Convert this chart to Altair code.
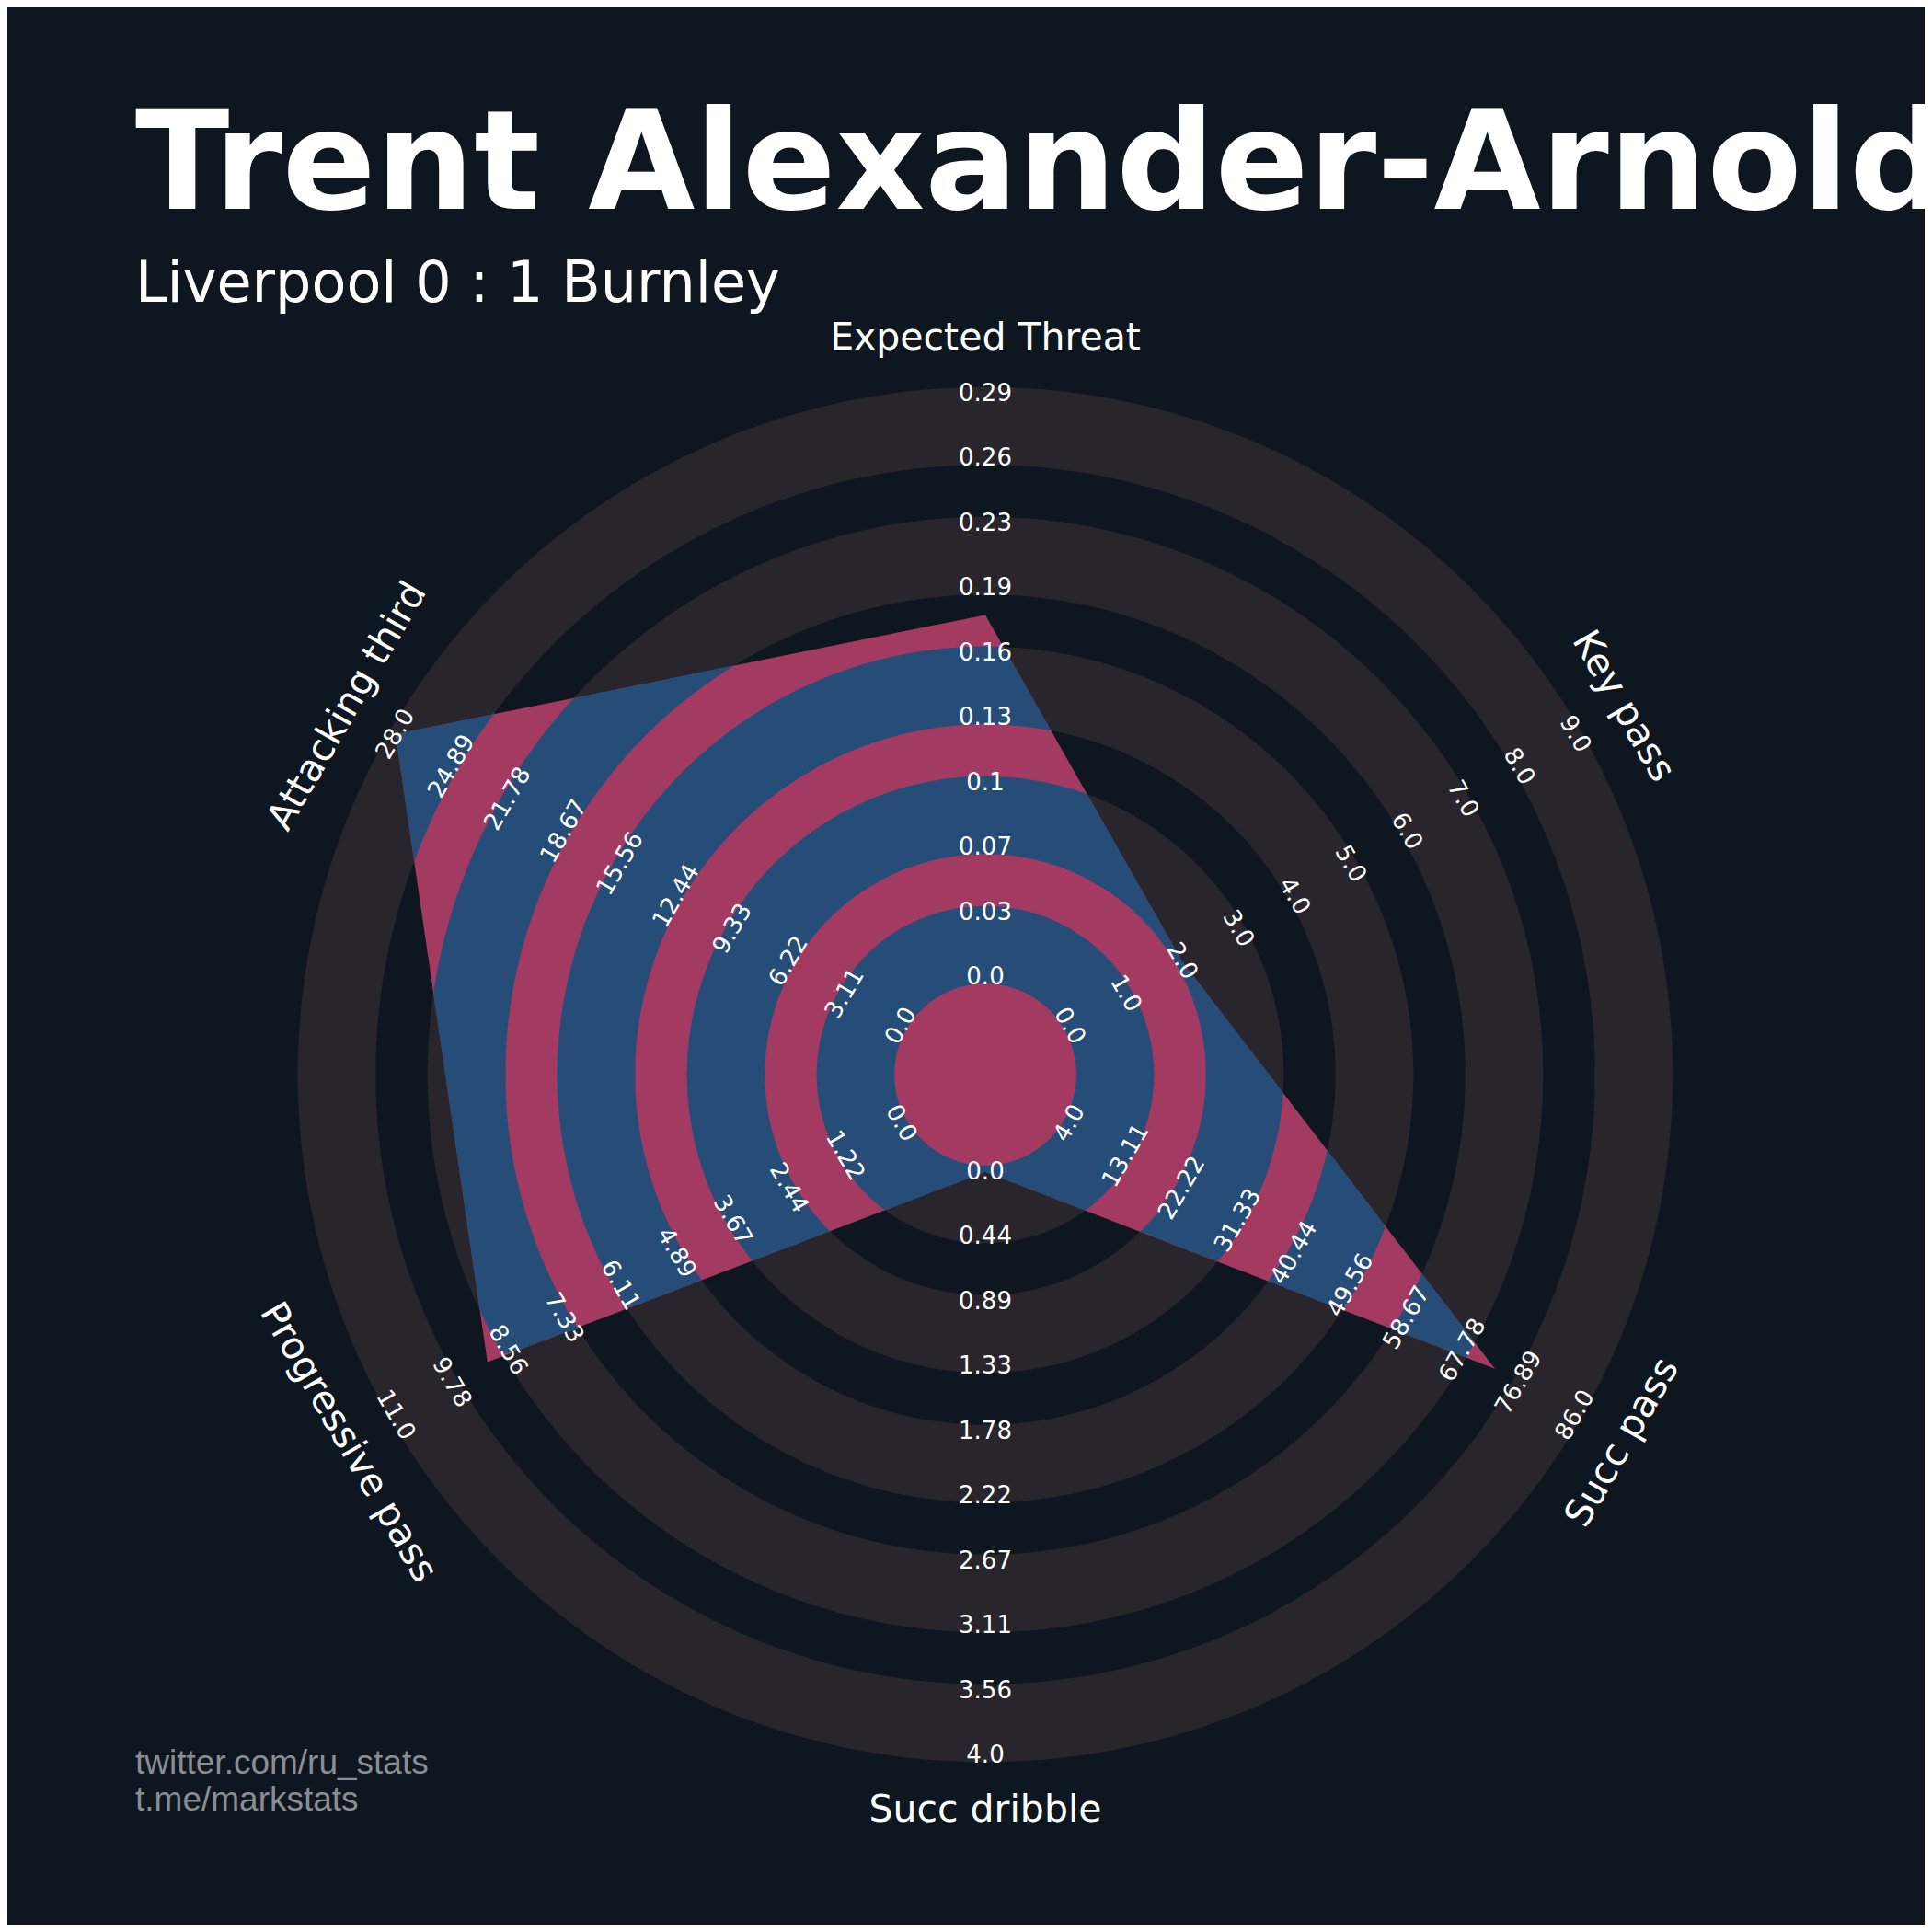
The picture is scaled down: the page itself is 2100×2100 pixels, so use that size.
import numpy as np
import pandas as pd
import altair as alt

# ---------------- data ----------------
params = ["Expected Threat", "Key pass", "Succ pass", "Succ dribble",
          "Progressive pass", "Attacking third"]
values = [0.18, 2, 73, 0, 9, 28]
range_min = [0.0, 0.0, 4.0, 0.0, 0.0, 0.0]
range_max = [0.29, 9.0, 86.0, 4.0, 11.0, 28.0]
axis_angle = [90, 30, -30, -90, -150, 150]  # degrees, counter-clockwise from east

labels_xt = ["0.0", "0.03", "0.07", "0.1", "0.13", "0.16", "0.19", "0.23", "0.26", "0.29"]
labels_kp = ["0.0", "1.0", "2.0", "3.0", "4.0", "5.0", "6.0", "7.0", "8.0", "9.0"]
labels_sp = ["4.0", "13.11", "22.22", "31.33", "40.44", "49.56", "58.67", "67.78", "76.89", "86.0"]
labels_sd = ["0.0", "0.44", "0.89", "1.33", "1.78", "2.22", "2.67", "3.11", "3.56", "4.0"]
labels_pp = ["0.0", "1.22", "2.44", "3.67", "4.89", "6.11", "7.33", "8.56", "9.78", "11.0"]
labels_at = ["0.0", "3.11", "6.22", "9.33", "12.44", "15.56", "18.67", "21.78", "24.89", "28.0"]
ring_labels = [labels_xt, labels_kp, labels_sp, labels_sd, labels_pp, labels_at]

title = "Trent Alexander-Arnold"
subtitle = "Liverpool 0 : 1 Burnley"
credit_1 = "twitter.com/ru_stats"
credit_2 = "t.me/markstats"

# ---------------- style / geometry ----------------
BG = "#0e1720"
RING = "#28252c"
PINK = "#a33a61"
BLUE = "#254d78"
WHITE = "#ffffff"
GREY = "#8a8e93"

W = H = 2084
PX = 70.5           # pixels per radial unit
CX, CY = 1063, 1160  # radar centre in chart pixels
INNER = 1.5          # radius of the lowest label ring (units)
NSTEP = 9            # label steps
DISK = 1.4
LABEL_R = 11.35

xs = alt.Scale(domain=[-CX / PX, (W - CX) / PX], nice=False, zero=False)
ys = alt.Scale(domain=[-(H - CY) / PX, CY / PX], nice=False, zero=False)


def rot_for(a):
    return (90 - a) % 360 if np.sin(np.radians(a)) > 1e-9 else (-a - 90) % 360


# polygon vertices (units)
vr = [INNER + NSTEP * (v - lo) / (hi - lo) for v, lo, hi in zip(values, range_min, range_max)]
P = np.array([[r * np.cos(np.radians(a)), r * np.sin(np.radians(a))] for r, a in zip(vr, axis_angle)])


def poly_r(th_deg):
    th = np.radians(th_deg)
    d0, d1 = np.cos(th), np.sin(th)
    best = np.full(len(th), np.inf)
    n = len(P)
    for i in range(n):
        p = P[i]
        e = P[(i + 1) % n] - p
        den = d0 * e[1] - d1 * e[0]
        with np.errstate(divide="ignore", invalid="ignore"):
            t = (p[0] * e[1] - p[1] * e[0]) / den
            s = (p[0] * d1 - p[1] * d0) / den
        ok = (np.abs(den) > 1e-12) & (s >= -1e-9) & (s <= 1 + 1e-9) & (t > 0)
        best = np.where(ok & (t < best), t, best)
    return best


def band_rows(a, b, clip, step, start_id):
    rows = []
    pid = start_id
    for c in range(6):
        th = np.arange(c * 60 - 1, (c + 1) * 60 + 1 + 1e-9, step)
        if clip:
            ro = np.clip(poly_r(th), a, b)
            if np.all(ro <= a + 1e-9):
                continue
        else:
            ro = np.full(len(th), b)
        ang = np.concatenate([th, th[::-1]])
        rr = np.concatenate([ro, np.full(len(th), a)])
        xx = rr * np.cos(np.radians(ang))
        yy = rr * np.sin(np.radians(ang))
        for k, (x, y) in enumerate(zip(xx, yy)):
            rows.append({"pid": pid, "idx": k, "x": round(float(x), 4), "y": round(float(y), 4)})
        pid += 1
    return rows, pid


gray_rows, blue_rows = [], []
gid = bid = 0
for k in range(5):
    a, b = DISK + 2 * k, DISK + 1.2 + 2 * k
    r1, gid = band_rows(a, b, False, 1.0, gid)
    gray_rows += r1
    r2, bid = band_rows(a, b, True, 0.5, bid)
    blue_rows += r2
gray_df = pd.DataFrame(gray_rows)
blue_df = pd.DataFrame(blue_rows)

th = np.arange(0, 360, 1.0)
disk_df = pd.DataFrame({"pid": 0, "idx": np.arange(len(th)),
                        "x": np.round(DISK * np.cos(np.radians(th)), 4),
                        "y": np.round(DISK * np.sin(np.radians(th)), 4)})

param_df = pd.DataFrame({"param": params, "value": values, "lo": range_min, "hi": range_max,
                         "ang": axis_angle, "ord": list(range(len(params))),
                         "rot": [rot_for(a) for a in axis_angle]})

lab_rows = []
for p, a, labs in zip(params, axis_angle, ring_labels):
    for j, t in enumerate(labs):
        lab_rows.append({"param": p, "ang": a, "j": j, "txt": t, "rot": rot_for(a)})
lab_df = pd.DataFrame(lab_rows)


def filled(df, color):
    return alt.Chart(df).mark_line(filled=True, fill=color, interpolate="linear-closed",
                                   strokeWidth=0).encode(
        x=alt.X("x:Q", scale=xs, axis=None),
        y=alt.Y("y:Q", scale=ys, axis=None),
        detail="pid:N",
        order=alt.Order("idx:Q"),
    )


gray_layer = filled(gray_df, RING)
blue_layer = filled(blue_df, BLUE)
disk_layer = filled(disk_df, PINK)

poly_layer = alt.Chart(param_df).transform_calculate(
    r=f"{INNER} + {NSTEP}*(datum.value - datum.lo)/(datum.hi - datum.lo)"
).transform_calculate(
    x="datum.r*cos(datum.ang*PI/180)",
    y="datum.r*sin(datum.ang*PI/180)",
).mark_line(filled=True, fill=PINK, interpolate="linear-closed", strokeWidth=0).encode(
    x=alt.X("x:Q", scale=xs, axis=None),
    y=alt.Y("y:Q", scale=ys, axis=None),
    order=alt.Order("ord:Q"),
)

ring_text = alt.Chart(lab_df).transform_calculate(
    r=f"{INNER} + datum.j"
).transform_calculate(
    x="datum.r*cos(datum.ang*PI/180)",
    y="datum.r*sin(datum.ang*PI/180)",
).mark_text(font="DejaVu Sans", fontSize=26, color=WHITE, align="center", baseline="middle").encode(
    x=alt.X("x:Q", scale=xs, axis=None),
    y=alt.Y("y:Q", scale=ys, axis=None),
    text="txt:N",
    angle=alt.Angle("rot:Q", scale=None),
)

param_text = alt.Chart(param_df).transform_calculate(
    x=f"{LABEL_R}*cos(datum.ang*PI/180)",
    y=f"{LABEL_R}*sin(datum.ang*PI/180)",
).mark_text(font="DejaVu Sans", fontSize=41, color=WHITE, align="center", baseline="middle").encode(
    x=alt.X("x:Q", scale=xs, axis=None),
    y=alt.Y("y:Q", scale=ys, axis=None),
    text="param:N",
    angle=alt.Angle("rot:Q", scale=None),
)


def text_layer(txt, x, y, size, color, font, weight="normal"):
    return alt.Chart(pd.DataFrame({"t": [txt]})).mark_text(
        align="left", baseline="alphabetic", fontSize=size, font=font,
        fontWeight=weight, color=color).encode(
        x=alt.value(x), y=alt.value(y), text="t:N")


title_layer = text_layer(title, 139, 219, 150, WHITE, "DejaVu Sans", "bold")
sub_layer = text_layer(subtitle, 139, 320, 62, WHITE, "DejaVu Sans")
c1_layer = text_layer(credit_1, 139, 1920, 37, GREY, "Liberation Sans")
c2_layer = text_layer(credit_2, 139, 1960, 37, GREY, "Liberation Sans")

chart = alt.layer(
    gray_layer, poly_layer, blue_layer, disk_layer, ring_text, param_text,
    title_layer, sub_layer, c1_layer, c2_layer
).properties(
    width=W, height=H, background=BG, padding=0,
    autosize=alt.AutoSizeParams(type="none"),
).configure_view(strokeWidth=0)

chart.save("out.html", embed_options={"renderer": "svg", "actions": False})
